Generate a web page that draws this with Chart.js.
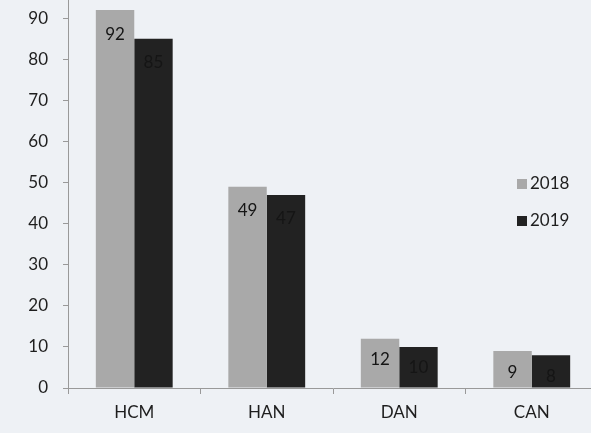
<!DOCTYPE html>
<html>
<head>
<meta charset="utf-8">
<script src="https://cdn.jsdelivr.net/npm/chart.js@4"></script>
<style>
  html, body { margin: 0; padding: 0; background: #eef1f5; overflow: hidden; }
  #wrap { position: absolute; left: 0; top: -25px; width: 598px; height: 458px; }
</style>
</head>
<body>
<div id="wrap"><canvas id="chart"></canvas></div>
<script>
const cities = ['HCM', 'HAN', 'DAN', 'CAN'];
const v2018 = [92, 49, 12, 9];
const v2019 = [85, 47, 10, 8];
const yTicks = [0, 10, 20, 30, 40, 50, 60, 70, 80, 90];

const FONT = 'Lato, "Open Sans", sans-serif';
const INK = '#1e1e1e';

// value labels inside the top of each bar
const barLabels = {
  id: 'barLabels',
  afterDatasetsDraw(chart) {
    const ctx = chart.ctx;
    ctx.save();
    ctx.font = '17px ' + FONT;
    ctx.fillStyle = '#151515';
    ctx.textAlign = 'center';
    ctx.textBaseline = 'middle';
    chart.data.datasets.forEach((ds, i) => {
      chart.getDatasetMeta(i).data.forEach((bar, j) => {
        const off = ds.data[j] > 20 ? 24 : 21;
        ctx.fillText(String(ds.data[j]), bar.x, bar.y + off);
      });
    });
    ctx.restore();
  }
};

// small legend on the right side of the plot
const sideLegend = {
  id: 'sideLegend',
  afterDraw(chart) {
    const ctx = chart.ctx;
    ctx.save();
    ctx.font = '17px ' + FONT;
    ctx.textBaseline = 'middle';
    chart.data.datasets.forEach((ds, i) => {
      const y = 184 + 25 + i * 37;
      ctx.fillStyle = ds.backgroundColor;
      ctx.fillRect(517, y - 5, 10, 10);
      ctx.fillStyle = INK;
      ctx.fillText(ds.label, 530, y);
    });
    ctx.restore();
  }
};

new Chart(document.getElementById('chart').getContext('2d'), {
  type: 'bar',
  data: {
    labels: cities,
    datasets: [
      { label: '2018', data: v2018, backgroundColor: '#a9a9a9' },
      { label: '2019', data: v2019, backgroundColor: '#222222' }
    ]
  },
  options: {
    responsive: true,
    maintainAspectRatio: false,
    animation: false,
    layout: { padding: 0 },
    datasets: { bar: { categoryPercentage: 0.58, barPercentage: 1.0 } },
    plugins: { legend: { display: false }, tooltip: { enabled: false } },
    scales: {
      x: {
        grid: { drawOnChartArea: false, drawTicks: true, tickLength: 6, color: '#999' },
        border: { display: true, color: '#999', dash: [1, 2] },
        ticks: { color: INK, font: { family: FONT, size: 17 }, padding: 8 },
        afterFit(s) { s.height = 45; }
      },
      y: {
        min: 0,
        max: 94.4,
        afterBuildTicks(s) { s.ticks = yTicks.map(v => ({ value: v })); },
        grid: { drawOnChartArea: false, drawTicks: true, tickLength: 5, color: '#999' },
        border: { display: true, color: '#999', dash: [1, 2] },
        ticks: { color: INK, font: { family: FONT, size: 17 }, padding: 15 },
        afterFit(s) { s.width = 68; }
      }
    }
  },
  plugins: [barLabels, sideLegend]
});
</script>
</body>
</html>
